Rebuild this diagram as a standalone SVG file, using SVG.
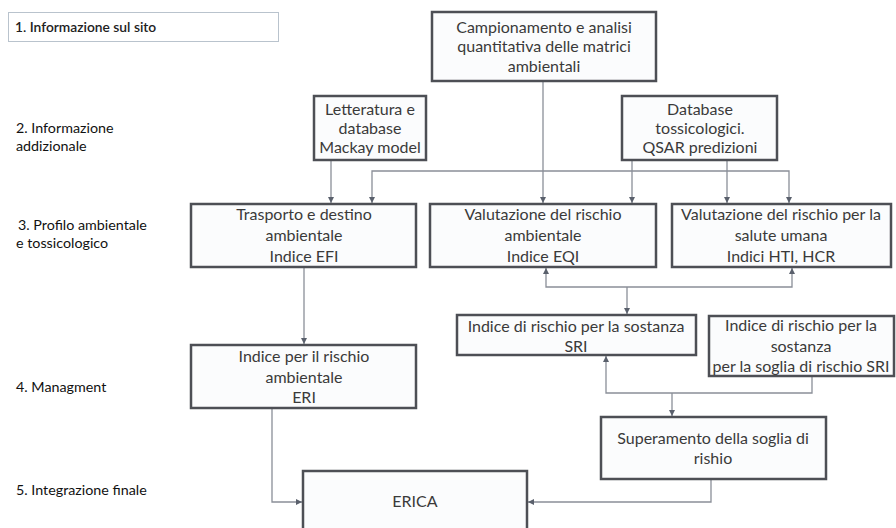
<svg xmlns="http://www.w3.org/2000/svg" width="896" height="528" viewBox="0 0 896 528">
<style>
.box{fill:#fbfcfd;stroke:#4d4f55;stroke-width:2.5}
.bt{font-family:Lato,"Liberation Sans",sans-serif;font-size:16px;fill:#3a3a3a;text-anchor:middle}
.lb{font-family:Lato,"Liberation Sans",sans-serif;font-size:14.3px;fill:#111}
.cn{fill:none;stroke:#8a8f98;stroke-width:1.3}
</style>
<defs>
<marker id="ah" viewBox="0 0 10 10" refX="10" refY="5" markerWidth="6" markerHeight="6" markerUnits="userSpaceOnUse" orient="auto-start-reverse">
<path d="M0,0 L10,5 L0,10 z" fill="#5a606c"/>
</marker>
</defs>
<rect width="896" height="528" fill="#ffffff"/>

<g id="lbl1">
<rect x="8.5" y="12.5" width="270" height="29" fill="#ffffff" stroke="#b9c3cd" stroke-width="1"/>
<text class="lb" x="15" y="32" style="font-size:13.8px;font-weight:600;fill:#222">1. Informazione sul sito</text>
</g>
<g id="lbl2"><text class="lb" x="16" y="133">2. Informazione</text><text class="lb" x="16" y="151">addizionale</text></g>
<g id="lbl3"><text class="lb" x="18" y="230">3. Profilo ambientale</text><text class="lb" x="16" y="248">e tossicologico</text></g>
<g id="lbl4"><text class="lb" x="16" y="392">4. Managment</text></g>
<g id="lbl5"><text class="lb" x="16" y="495">5. Integrazione finale</text></g>

<g id="connectors">
<path class="cn" d="M543,81 V203" marker-end="url(#ah)"/>
<path class="cn" d="M331,160 V203" marker-end="url(#ah)"/>
<path class="cn" d="M632,160 V203" marker-end="url(#ah)"/>
<path class="cn" d="M727,160 V203" marker-end="url(#ah)"/>
<path class="cn" d="M372,203 V171 H789 V203" marker-start="url(#ah)" marker-end="url(#ah)"/>
<path class="cn" d="M546,268 V287 H792 V268" marker-start="url(#ah)" marker-end="url(#ah)"/>
<path class="cn" d="M627,287 V314" marker-end="url(#ah)"/>
<path class="cn" d="M304,267 V344" marker-end="url(#ah)"/>
<path class="cn" d="M812,376 V393 H606 V356" marker-end="url(#ah)"/>
<path class="cn" d="M672,393 V416" marker-end="url(#ah)"/>
<path class="cn" d="M711,479 V502 H528" marker-end="url(#ah)"/>
<path class="cn" d="M272,408 V502 H302" marker-end="url(#ah)"/>
</g>

<g id="campionamento">
<rect class="box" x="432" y="12" width="224" height="69"/>
<text class="bt" x="544" y="33">Campionamento e analisi</text>
<text class="bt" x="544" y="52">quantitativa delle matrici</text>
<text class="bt" x="544" y="72">ambientali</text>
</g>
<g id="letteratura">
<rect class="box" x="314" y="96" width="112" height="64"/>
<text class="bt" x="370" y="115">Letteratura e</text>
<text class="bt" x="370" y="134">database</text>
<text class="bt" x="370" y="153">Mackay model</text>
</g>
<g id="database">
<rect class="box" x="622" y="96" width="155" height="64"/>
<text class="bt" x="700" y="115">Database</text>
<text class="bt" x="700" y="134">tossicologici.</text>
<text class="bt" x="700" y="153">QSAR predizioni</text>
</g>
<g id="trasporto">
<rect class="box" x="191" y="204" width="225" height="63"/>
<text class="bt" x="304" y="220">Trasporto e destino</text>
<text class="bt" x="304" y="241">ambientale</text>
<text class="bt" x="304" y="262">Indice EFI</text>
</g>
<g id="valamb">
<rect class="box" x="430" y="204" width="226" height="63"/>
<text class="bt" x="543" y="220">Valutazione del rischio</text>
<text class="bt" x="543" y="241">ambientale</text>
<text class="bt" x="543" y="262">Indice EQI</text>
</g>
<g id="salute">
<rect class="box" x="672" y="204" width="219" height="63"/>
<text class="bt" x="781" y="220">Valutazione del rischio per la</text>
<text class="bt" x="781" y="241">salute umana</text>
<text class="bt" x="781" y="262">Indici HTI, HCR</text>
</g>
<g id="sri">
<rect class="box" x="457" y="315" width="239" height="40"/>
<text class="bt" x="576" y="332">Indice di rischio per la sostanza</text>
<text class="bt" x="576" y="352">SRI</text>
</g>
<g id="soglia">
<rect class="box" x="709" y="316" width="185" height="60"/>
<text class="bt" x="801" y="331">Indice di rischio per la</text>
<text class="bt" x="801" y="352">sostanza</text>
<text class="bt" x="801" y="372">per la soglia di rischio SRI</text>
</g>
<g id="eri">
<rect class="box" x="191" y="345" width="225" height="63"/>
<text class="bt" x="304" y="362">Indice per il rischio</text>
<text class="bt" x="304" y="383">ambientale</text>
<text class="bt" x="304" y="403">ERI</text>
</g>
<g id="superamento">
<rect class="box" x="601" y="417" width="225" height="62"/>
<text class="bt" x="713" y="444">Superamento della soglia di</text>
<text class="bt" x="713" y="464">rishio</text>
</g>
<g id="erica">
<rect class="box" x="303" y="471" width="224" height="70"/>
<text class="bt" x="415" y="507">ERICA</text>
</g>
</svg>
